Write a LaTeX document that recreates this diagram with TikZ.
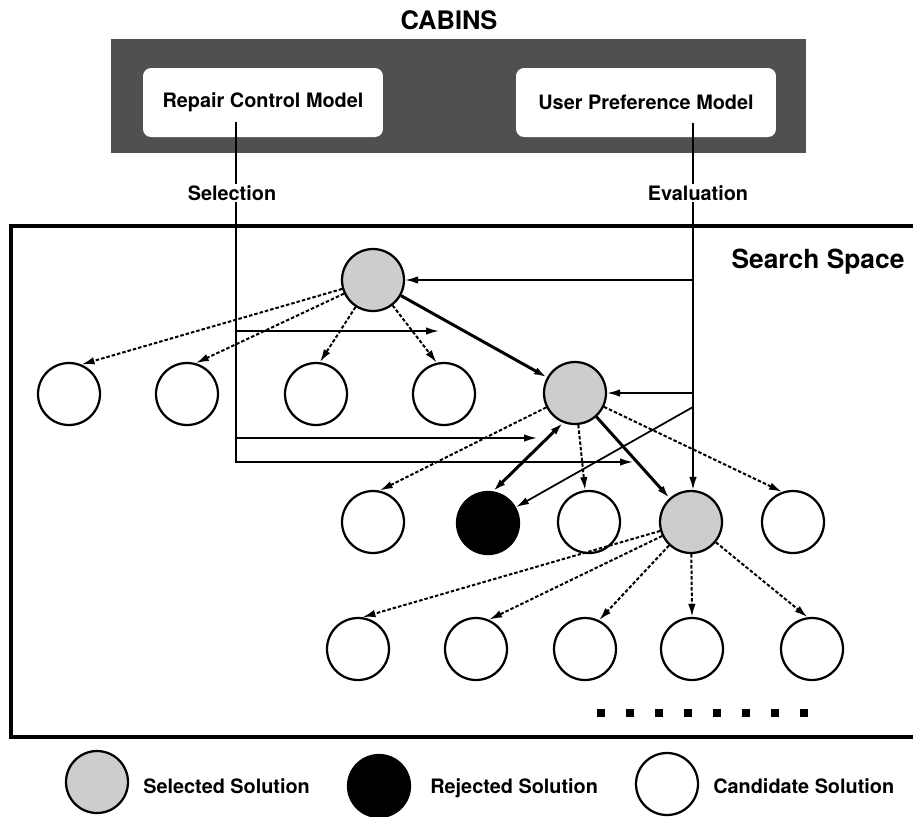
\documentclass[tikz,border=0pt]{standalone}
\usepackage{fontspec}
\setmainfont{TeX Gyre Heros}
\usetikzlibrary{arrows.meta}

\begin{document}
\begin{tikzpicture}[x=0.02cm,y=-0.02cm,
    sol/.style={circle,draw,line width=0.045cm,minimum size=1.24cm,inner sep=0pt,fill=white},
    selsol/.style={sol,fill=r205g205b205},
    rejsol/.style={sol,fill=black},
    modelbox/.style={fill=white,rounded corners=0.16cm,minimum height=1.38cm,inner sep=0pt},
    lbl/.style={font=\fontsize{11.3}{13}\selectfont,inner sep=1pt},
    headtip/.style={-{Latex[length=0.26cm,width=0.15cm]}},
    ctrl/.style={headtip,line width=0.035cm},
    pick/.style={headtip,line width=0.06cm},
    gen/.style={headtip,line width=0.04cm,dash pattern=on 0.07cm off 0.04cm}]
    \useasboundingbox (0,0) rectangle (913,816);
    {\bfseries

    % Changing color 205 205 205 and 80 80 80
    \definecolor{r205g205b205}{rgb}{0.803922,0.803922,0.803922}%
    \definecolor{r80g80b80}{rgb}{0.313725,0.313725,0.313725}%

    % Drawing title CABINS
    \node[font=\fontsize{14.5}{16}\selectfont] (cabins) at (449,20) {CABINS};

    % Filling box CABINS
    \fill[r80g80b80] (111,39) rectangle (806,153);

    % Drawing model boxes
    \node[modelbox,lbl,minimum width=4.8cm] (rcm) at (263,102.5) {Repair Control Model};
    \node[modelbox,lbl,minimum width=5.2cm] (upm) at (646,102.5) {User Preference Model};

    % Drawing frame Search Space
    \draw[line width=0.065cm] (913,226) -- (11,226) -- (11,737) -- (913,737);
    \node[font=\fontsize{15}{17}\selectfont,inner sep=0pt] (space) at (818,262) {Search Space};

    % Marking solutions, level 1 and 2
    \node[selsol] (S1) at (373,280) {};
    \node[sol] (c1) at (69,394) {};
    \node[sol] (c2) at (187,394) {};
    \node[sol] (c3) at (316,394) {};
    \node[sol] (c4) at (444,394) {};
    \node[selsol] (S2) at (575,393) {};

    % Marking solutions, level 3
    \node[sol] (r1) at (373,522) {};
    \node[rejsol] (R) at (488,523) {};
    \node[sol] (r3) at (589,522) {};
    \node[selsol] (S3) at (691,522) {};
    \node[sol] (r5) at (793,522) {};

    % Marking solutions, level 4
    \node[sol] (q1) at (358,649) {};
    \node[sol] (q2) at (476,649) {};
    \node[sol] (q3) at (585,649) {};
    \node[sol] (q4) at (692,649) {};
    \node[sol] (q5) at (812,649) {};

    % Drawing lines S1 -> level 2
    \draw[gen] (S1) -- (c1.67);
    \draw[gen] (S1) -- (c2.74);
    \draw[gen] (S1) -- (c3.83);
    \draw[gen] (S1) -- (c4.103);
    \draw[pick] (S1) -- (S2);

    % Drawing lines S2 -> level 3
    \draw[gen] (S2) -- (r1.78);
    \draw[line width=0.06cm,{Latex[length=0.26cm,width=0.15cm]}-{Latex[length=0.26cm,width=0.15cm]}] (S2.248) -- (R.81);
    \draw[gen] (S2) -- (r3.97);
    \draw[pick] (S2) -- (S3);
    \draw[gen] (S2) -- (r5.110);

    % Drawing lines S3 -> level 4
    \draw[gen] (S3) -- (q1.82);
    \draw[gen] (S3) -- (q2.66);
    \draw[gen] (S3) -- (q3.64);
    \draw[gen] (S3) -- (q4.90);
    \draw[gen] (S3) -- (q5.98);

    % Drawing line Selection
    \coordinate (sel0) at (236,122);
    \coordinate (sel1) at (236,331);
    \coordinate (sel2) at (236,438);
    \coordinate (selT1) at (439,331);
    \coordinate (selT2) at (537,438);
    \coordinate (selT3) at (633,462);
    \draw[ctrl] (sel0) |- (selT3);
    \draw[ctrl] (sel1) -- (selT1);
    \draw[ctrl] (sel2) -- (selT2);

    % Drawing line Evaluation
    \coordinate (ev0) at (693,123);
    \coordinate (ev1) at (693,280);
    \coordinate (ev2) at (693,393);
    \coordinate (ev3) at (693,407);
    \draw[ctrl] (ev0) -- (ev0 |- S3.north);
    \draw[ctrl] (ev1) -- (S1);
    \draw[ctrl] (ev2) -- (S2);
    \draw[ctrl] (ev3) -- (R);

    % Drawing labels on lines
    \node[lbl,fill=white] (sellbl) at (232,193) {Selection};
    \node[lbl,fill=white] (evlbl) at (698,193) {Evaluation};

    % Marking dots
    \foreach \i in {0,...,7}
      \fill (597+29*\i,709) rectangle +(8,8);

    % Drawing legend
    \node[selsol] (lsel) at (97,782) {};
    \node[lbl,anchor=base west,inner sep=0pt] (lseltxt) at (143,793) {Selected Solution};
    \node[rejsol] (lrej) at (379,786) {};
    \node[lbl,anchor=base west,inner sep=0pt] (lrejtxt) at (430,793) {Rejected Solution};
    \node[sol] (lcand) at (667,784) {};
    \node[lbl,anchor=base west,inner sep=0pt] (lcandtxt) at (713,793) {Candidate Solution};
    }
\end{tikzpicture}
\end{document}
